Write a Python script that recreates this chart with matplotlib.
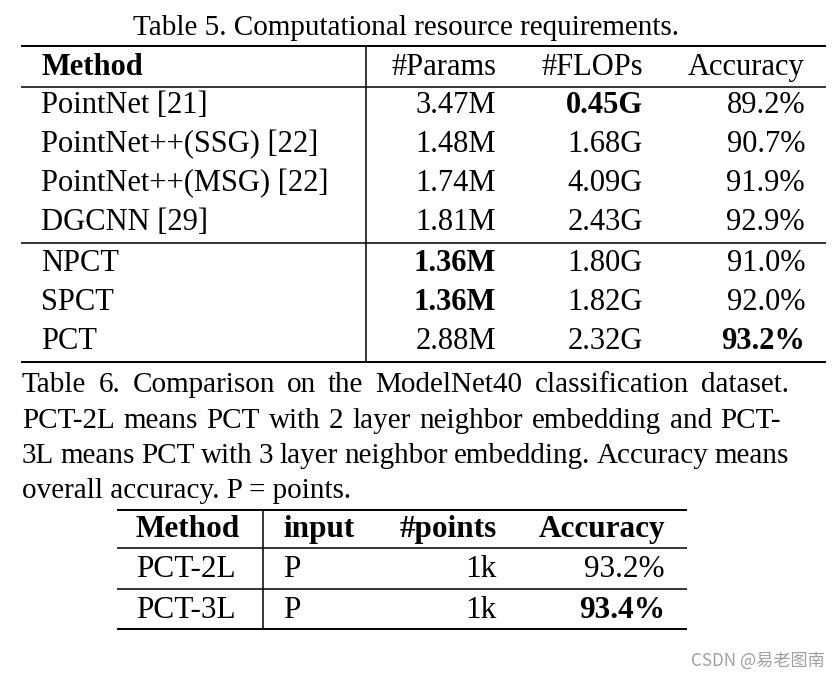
import matplotlib
matplotlib.use("Agg")
import matplotlib.pyplot as plt

# Table 5 data
t5_title = "Table 5. Computational resource requirements."
t5_header = ["Method", "#Params", "#FLOPs", "Accuracy"]
t5_methods = ["PointNet [21]", "PointNet++(SSG) [22]", "PointNet++(MSG) [22]",
              "DGCNN [29]", "NPCT", "SPCT", "PCT"]
t5_params = ["3.47M", "1.48M", "1.74M", "1.81M", "1.36M", "1.36M", "2.88M"]
t5_flops = ["0.45G", "1.68G", "4.09G", "2.43G", "1.80G", "1.82G", "2.32G"]
t5_acc = ["89.2%", "90.7%", "91.9%", "92.9%", "91.0%", "92.0%", "93.2%"]
t5_bold = {(0, 2), (4, 1), (5, 1), (6, 3)}

# Table 6 caption and data
t6_caption = ["Table 6. Comparison on the ModelNet40 classification dataset.",
              "PCT-2L means PCT with 2 layer neighbor embedding and PCT-",
              "3L means PCT with 3 layer neighbor embedding. Accuracy means",
              "overall accuracy. P = points."]
t6_header = ["Method", "input", "#points", "Accuracy"]
t6_methods = ["PCT-2L", "PCT-3L"]
t6_input = ["P", "P"]
t6_points = ["1k", "1k"]
t6_acc = ["93.2%", "93.4%"]
t6_bold = {(1, 3)}

watermark = "CSDN @易老图南"

W, H = 840, 678
fig = plt.figure(figsize=(W / 100, H / 100), dpi=100)
ax = fig.add_axes([0, 0, 1, 1])
ax.set_xlim(0, W)
ax.set_ylim(H, 0)
ax.axis("off")

serif = "Liberation Serif"
fs_cap = 21
fs_t5 = 22
fs_t6 = 22.5


def put(x, y, s, fs, ha="left", bold=False):
    ax.text(x, y, s, ha=ha, va="baseline", fontsize=fs, family=serif,
            fontweight="bold" if bold else "normal", color="black")


def rule(x0, x1, y, lw=1.4):
    ax.plot([x0, x1], [y, y], color="black", lw=lw, solid_capstyle="butt")


# ---- Table 5 ----
put(406, 35, t5_title, fs_cap, ha="center")
rule(21, 826, 46)
rule(21, 826, 87, lw=1.1)
rule(21, 826, 243, lw=1.1)
rule(21, 826, 362)
ax.plot([366, 366], [46, 362], color="black", lw=1.1)

col_x = [41, 496, 643, 805]
col_ha = ["left", "right", "right", "right"]
for j, h in enumerate(t5_header):
    put(col_x[j], 75, h, fs_t5, ha=col_ha[j], bold=(j == 0))

row_y = [113, 152, 191, 230, 271, 310, 349]
for i in range(len(t5_methods)):
    vals = [t5_methods[i], t5_params[i], t5_flops[i], t5_acc[i]]
    for j, v in enumerate(vals):
        put(col_x[j], row_y[i], v, fs_t5, ha=col_ha[j], bold=(i, j) in t5_bold)

# ---- Table 6 caption (justified) ----
fig.canvas.draw()
renderer = fig.canvas.get_renderer()


def width_of(s, fs):
    t = ax.text(0, 0, s, fontsize=fs, family=serif)
    bb = t.get_window_extent(renderer=renderer)
    t.remove()
    return bb.width


cap_x0 = 22
cap_x1 = [789, 781, 789, None]
cap_y = [392, 428, 463, 498]
for k, line in enumerate(t6_caption):
    if cap_x1[k] is None:
        put(cap_x0, cap_y[k], line, fs_cap)
        continue
    words = line.split(" ")
    widths = [width_of(w, fs_cap) for w in words]
    gap = (cap_x1[k] - cap_x0 - sum(widths)) / (len(words) - 1)
    x = cap_x0
    for w, wd in zip(words, widths):
        put(x, cap_y[k], w, fs_cap)
        x += wd + gap

# ---- Table 6 ----
rule(117, 687, 510)
rule(117, 687, 548, lw=1.1)
rule(117, 687, 589, lw=1.1)
rule(117, 687, 629)
ax.plot([263, 263], [510, 629], color="black", lw=1.1)

col6_x = [136, 283, 497, 665]
col6_ha = ["left", "left", "right", "right"]
for j, h in enumerate(t6_header):
    put(col6_x[j], 537, h, fs_t6, ha=col6_ha[j], bold=True)

row6_y = [577, 618]
for i in range(len(t6_methods)):
    vals = [t6_methods[i], t6_input[i], t6_points[i], t6_acc[i]]
    for j, v in enumerate(vals):
        put(col6_x[j], row6_y[i], v, fs_t6, ha=col6_ha[j], bold=(i, j) in t6_bold)

ax.text(825, 661, watermark, ha="right", va="center", fontsize=12.3,
        family=["Noto Sans CJK SC", "DejaVu Sans"], color="#a0a0a0")

fig.savefig("out.png", dpi=100)
